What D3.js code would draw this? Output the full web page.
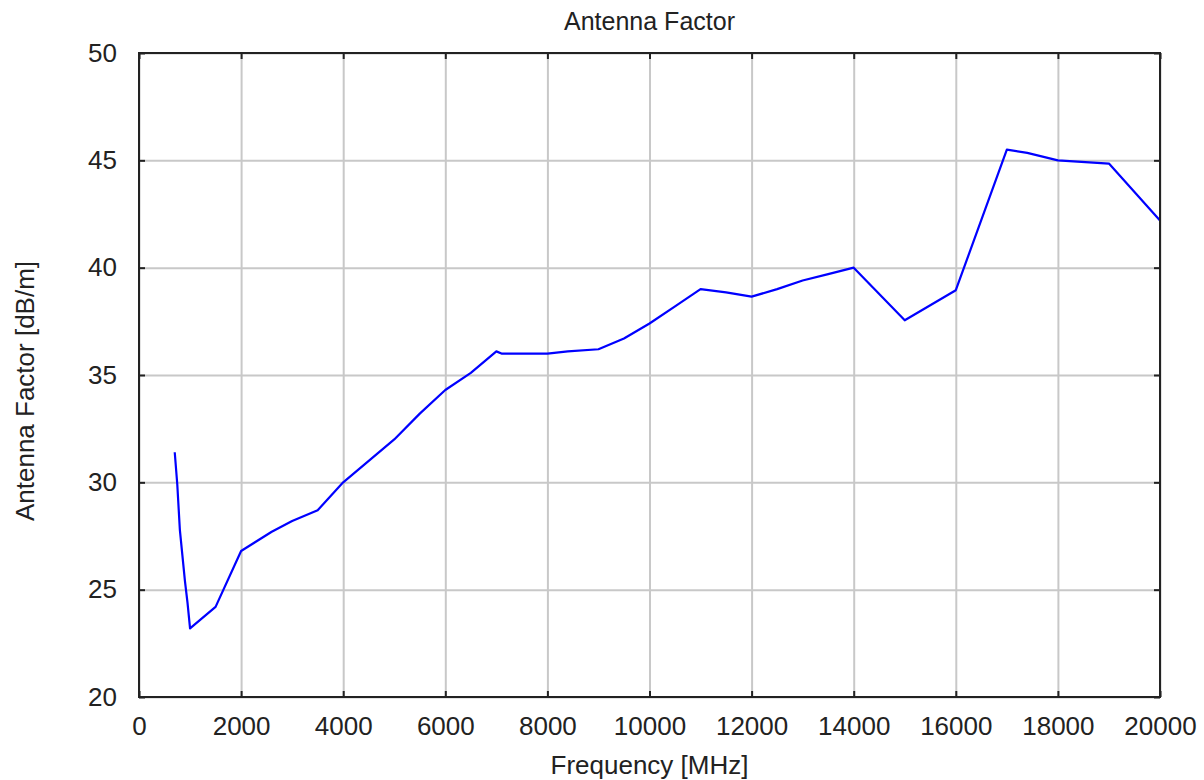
<!DOCTYPE html>
<html>
<head>
<meta charset="utf-8">
<script src="https://cdn.jsdelivr.net/npm/d3@7"></script>
<style>
  body { margin: 0; background: white; }
  text { font-family: "Liberation Sans", Arial, sans-serif; fill: #222; }
</style>
</head>
<body>
<svg id="chart" width="1204" height="780"></svg>
<script>
////////////////////////////////////////////////////////////////////////////////////
// Data
var freqMHz = [700, 750, 800, 850, 900, 950, 1000, 1500, 2000, 2600, 3000, 3500,
               4000, 4500, 5000, 5500, 6000, 6500, 7000, 7100, 8000, 8400, 9000,
               9500, 10000, 10500, 11000, 11500, 12000, 12500, 13000, 13500, 14000,
               15000, 16000, 17000, 17400, 18000, 19000, 20000];
var antennaFactor = [31.4, 29.9, 27.8, 26.6, 25.4, 24.4, 23.2, 24.2, 26.8, 27.7, 28.2, 28.7,
                     30.0, 31.0, 32.0, 33.2, 34.3, 35.1, 36.1, 36.0, 36.0, 36.1, 36.2,
                     36.7, 37.4, 38.2, 39.0, 38.85, 38.65, 39.0, 39.4, 39.7, 40.0,
                     37.55, 38.95, 45.5, 45.35, 45.0, 44.85, 42.2];
var xTicks = [0, 2000, 4000, 6000, 8000, 10000, 12000, 14000, 16000, 18000, 20000];
var yTicks = [20, 25, 30, 35, 40, 45, 50];

////////////////////////////////////////////////////////////////////////////////////
// Setup
var svg = d3.select("#chart");
var plotLeft = 139, plotRight = 1160, plotTop = 53, plotBottom = 697;

var xScale = d3.scaleLinear().domain([0, 20000]).range([plotLeft, plotRight]);
var yScale = d3.scaleLinear().domain([20, 50]).range([plotBottom, plotTop]);

var points = freqMHz.map(function(f, i) { return [f, antennaFactor[i]]; });

////////////////////////////////////////////////////////////////////////////////////
// Grid lines
svg.append("g")
   .attr("transform", "translate(0," + plotBottom + ")")
   .call(d3.axisBottom(xScale).tickValues(xTicks).tickSize(-(plotBottom - plotTop)).tickFormat(""))
   .call(function(g) { g.select(".domain").remove(); })
   .selectAll("line")
   .attr("stroke", "#c8c8c8")
   .attr("stroke-width", 2);

svg.append("g")
   .attr("transform", "translate(" + plotLeft + ",0)")
   .call(d3.axisLeft(yScale).tickValues(yTicks).tickSize(-(plotRight - plotLeft)).tickFormat(""))
   .call(function(g) { g.select(".domain").remove(); })
   .selectAll("line")
   .attr("stroke", "#c8c8c8")
   .attr("stroke-width", 2);

////////////////////////////////////////////////////////////////////////////////////
// Line
var line = d3.line()
             .x(function(d) { return xScale(d[0]); })
             .y(function(d) { return yScale(d[1]); });

svg.append("path")
   .datum(points)
   .attr("fill", "none")
   .attr("stroke", "#0000ff")
   .attr("stroke-width", 2.2)
   .attr("stroke-linejoin", "round")
   .attr("d", line);

////////////////////////////////////////////////////////////////////////////////////
// Frame + inward ticks
svg.append("rect")
   .attr("x", plotLeft).attr("y", plotTop)
   .attr("width", plotRight - plotLeft).attr("height", plotBottom - plotTop)
   .attr("fill", "none")
   .attr("stroke", "#222")
   .attr("stroke-width", 2);

var tickLen = 6;
// bottom axis with labels
var xAxis = svg.append("g")
   .attr("transform", "translate(0," + plotBottom + ")")
   .call(d3.axisBottom(xScale).tickValues(xTicks).tickSizeInner(-tickLen).tickSizeOuter(0)
           .tickPadding(20).tickFormat(d3.format("d")));
xAxis.select(".domain").remove();
xAxis.selectAll("line").attr("stroke", "#222").attr("stroke-width", 2);
xAxis.selectAll("text").style("font-size", "26px").attr("fill", "#222");

// top ticks
svg.append("g")
   .attr("transform", "translate(0," + plotTop + ")")
   .call(d3.axisTop(xScale).tickValues(xTicks).tickSizeInner(-tickLen).tickSizeOuter(0).tickFormat(""))
   .call(function(g) { g.select(".domain").remove(); })
   .selectAll("line").attr("stroke", "#222").attr("stroke-width", 2);

// left axis with labels
var yAxis = svg.append("g")
   .attr("transform", "translate(" + plotLeft + ",0)")
   .call(d3.axisLeft(yScale).tickValues(yTicks).tickSizeInner(-tickLen).tickSizeOuter(0)
           .tickPadding(22));
yAxis.select(".domain").remove();
yAxis.selectAll("line").attr("stroke", "#222").attr("stroke-width", 2);
yAxis.selectAll("text").style("font-size", "26px").attr("fill", "#222");

// right ticks
svg.append("g")
   .attr("transform", "translate(" + plotRight + ",0)")
   .call(d3.axisRight(yScale).tickValues(yTicks).tickSizeInner(-tickLen).tickSizeOuter(0).tickFormat(""))
   .call(function(g) { g.select(".domain").remove(); })
   .selectAll("line").attr("stroke", "#222").attr("stroke-width", 2);

////////////////////////////////////////////////////////////////////////////////////
// Titles
svg.append("text")
   .attr("x", (plotLeft + plotRight) / 2)
   .attr("y", 30)
   .attr("text-anchor", "middle")
   .style("font-size", "25px")
   .text("Antenna Factor");

svg.append("text")
   .attr("x", (plotLeft + plotRight) / 2)
   .attr("y", 774)
   .attr("text-anchor", "middle")
   .style("font-size", "26px")
   .text("Frequency [MHz]");

svg.append("text")
   .attr("transform", "translate(34,391) rotate(-90)")
   .attr("text-anchor", "middle")
   .style("font-size", "26px")
   .text("Antenna Factor [dB/m]");
</script>
</body>
</html>
